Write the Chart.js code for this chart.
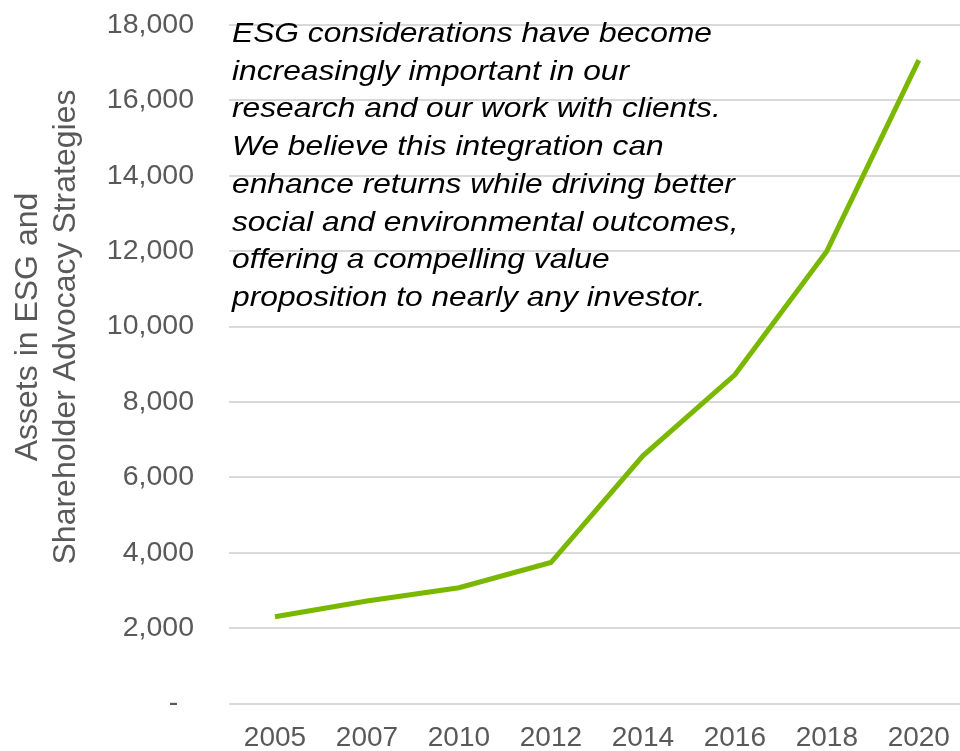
<!DOCTYPE html>
<html>
<head>
<meta charset="utf-8">
<script src="https://cdn.jsdelivr.net/npm/chart.js@4"></script>
<style>
  html, body { margin: 0; padding: 0; background: #fff; overflow: hidden; }
  #wrap { width: 968px; height: 751px; }
</style>
</head>
<body>
<div id="wrap"><canvas id="myChart" width="968" height="751"></canvas></div>
<script>
var years = ['2005', '2007', '2010', '2012', '2014', '2016', '2018', '2020'];
var assets = [2300, 2720, 3070, 3740, 6570, 8720, 12000, 17070];
var yTitle = ['Assets in ESG and', 'Shareholder Advocacy Strategies'];
var quote = [
    'ESG considerations have become',
    'increasingly important in our',
    'research and our work with clients.',
    'We believe this integration can',
    'enhance returns while driving better',
    'social and environmental outcomes,',
    'offering a compelling value',
    'proposition to nearly any investor.'
];

var textPlugin = {
    id: 'texts',
    afterDraw: function(chart) {
        var c = chart.ctx;
        // quote box
        c.save();
        c.font = 'italic 28px "Liberation Sans", Arial, sans-serif';
        c.fillStyle = '#000';
        c.textBaseline = 'alphabetic';
        var sx = 480 / c.measureText(quote[0]).width;
        c.translate(232, 0);
        c.scale(sx, 1);
        for (var i = 0; i < quote.length; i++) {
            c.fillText(quote[i], 0, 42 + i * 37.7);
        }
        c.restore();
        // y axis title, two lines
        c.save();
        c.font = '32px "Liberation Sans", Arial, sans-serif';
        c.fillStyle = '#595959';
        c.textAlign = 'center';
        c.textBaseline = 'alphabetic';
        for (var j = 0; j < yTitle.length; j++) {
            c.save();
            c.translate(37 + j * 38, 327);
            c.rotate(-Math.PI / 2);
            c.fillText(yTitle[j], 0, 0);
            c.restore();
        }
        c.restore();
    }
};

const ctx = document.getElementById('myChart');

new Chart(ctx, {
    type: 'line',
    data: {
        labels: years,
        datasets: [{
            label: 'Assets',
            data: assets,
            borderColor: '#7ab800',
            borderWidth: 5,
            pointRadius: 0,
            tension: 0,
            fill: false
        }]
    },
    options: {
        responsive: false,
        animation: false,
        layout: { padding: { top: 25, right: 1, bottom: 0, left: 0 } },
        plugins: {
            legend: { display: false },
            tooltip: { enabled: false }
        },
        scales: {
            x: {
                offset: true,
                grid: { display: false, drawTicks: false },
                border: { display: false },
                ticks: {
                    color: '#595959',
                    font: { family: '"Liberation Sans", Arial, sans-serif', size: 28 },
                    padding: 18,
                    maxRotation: 0,
                    autoSkip: false
                },
                afterFit: function(scale) { scale.height = 47.5; }
            },
            y: {
                min: 0,
                max: 18000,
                grid: {
                    color: '#d9d9d9',
                    lineWidth: 2,
                    drawTicks: true,
                    tickLength: 35,
                    tickColor: 'rgba(0,0,0,0)'
                },
                border: { display: false },
                ticks: {
                    stepSize: 2000,
                    color: '#595959',
                    padding: 0,
                    font: { family: '"Liberation Sans", Arial, sans-serif', size: 28.5 },
                    callback: function(v) {
                        return v === 0 ? '-  ' : v.toLocaleString('en-US');
                    }
                },
                afterFit: function(scale) { scale.width = 229; }
            }
        }
    },
    plugins: [textPlugin]
});
</script>
</body>
</html>
